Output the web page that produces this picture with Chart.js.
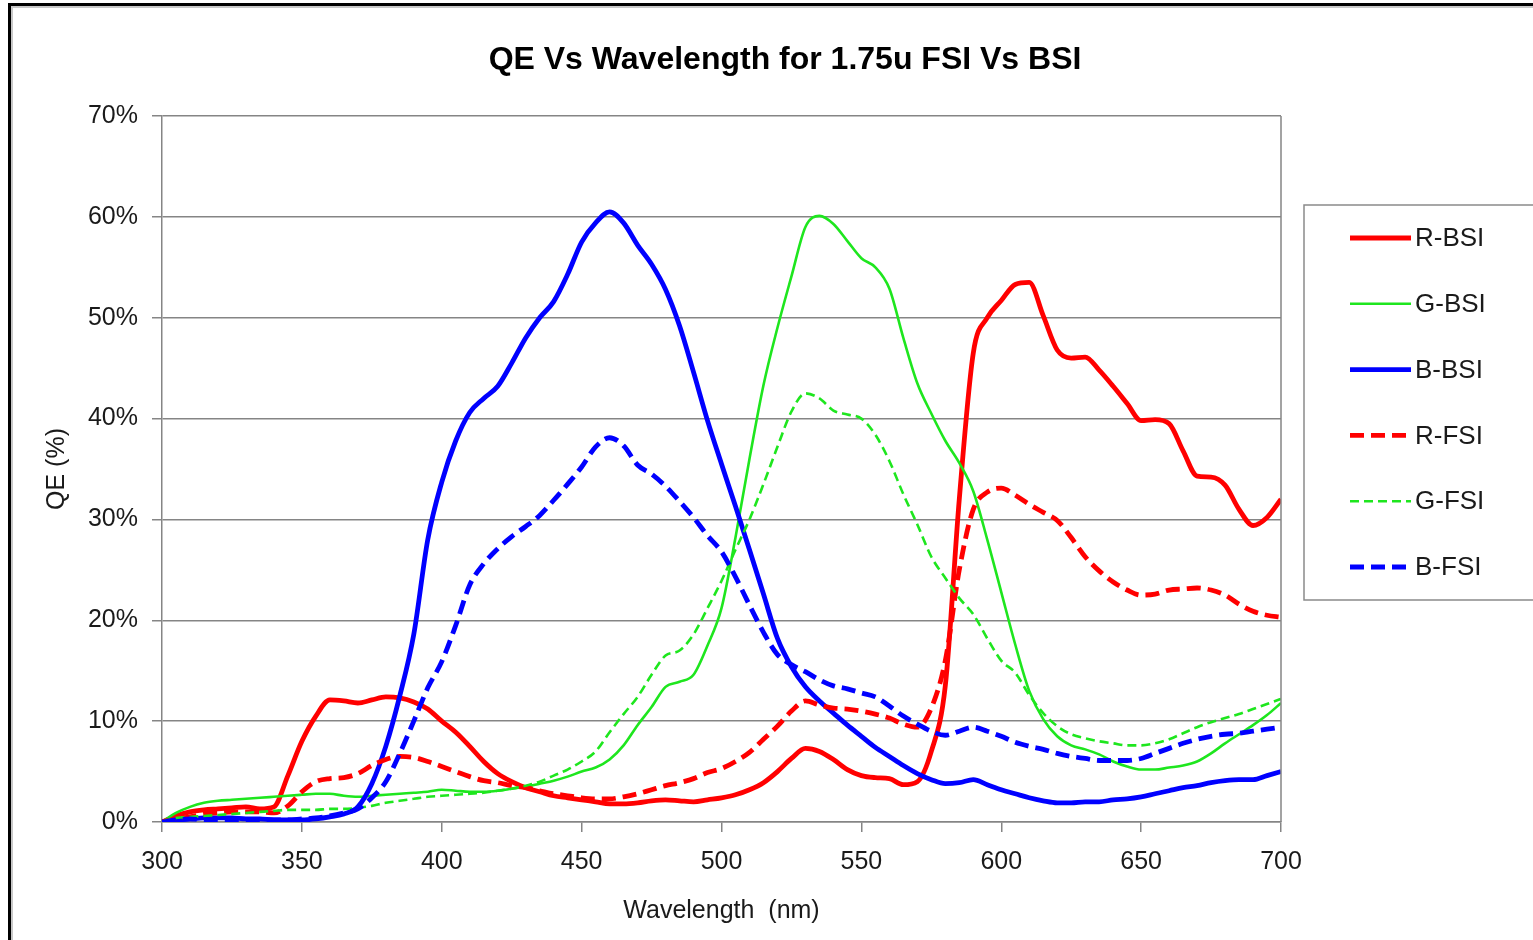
<!DOCTYPE html>
<html>
<head>
<meta charset="utf-8">
<title>QE Vs Wavelength for 1.75u FSI Vs BSI</title>
<script src="https://cdn.jsdelivr.net/npm/chart.js@4/dist/chart.umd.min.js"></script>
<style>
  html, body { margin: 0; padding: 0; background: #ffffff; overflow: hidden; }
  #wrap { position: relative; width: 1533px; height: 940px; }
  canvas { display: block; }
</style>
</head>
<body>
<div id="wrap"><canvas id="qe" width="1533" height="940"></canvas></div>
<script>
// Wavelength samples (nm)
const wavelengths = [
  300, 305, 310, 315, 320, 325, 330, 335, 340, 345,
  350, 355, 360, 365, 370, 375, 380, 385, 390, 395,
  400, 405, 410, 415, 420, 425, 430, 435, 440, 445,
  450, 455, 460, 465, 470, 475, 480, 485, 490, 495,
  500, 505, 510, 515, 520, 525, 530, 535, 540, 545,
  550, 555, 560, 565, 570, 575, 580, 585, 590, 595,
  600, 605, 610, 615, 620, 625, 630, 635, 640, 645,
  650, 655, 660, 665, 670, 675, 680, 685, 690, 695,
  700
];

// Quantum efficiency, percent
const rBSI = [
  0, 0.6, 1.0, 1.2, 1.3, 1.4, 1.5, 1.3, 1.5, 4.6,
  8.0, 10.5, 12.1, 12.0, 11.8, 12.1, 12.4, 12.3, 11.9, 11.2,
  10.0, 8.9, 7.5, 6.0, 4.8, 4.0, 3.4, 3.0, 2.6, 2.4,
  2.2, 2.0, 1.8, 1.8, 1.9, 2.1, 2.2, 2.1, 2.0, 2.2,
  2.4, 2.7, 3.2, 3.9, 5.0, 6.3, 7.3, 7.0, 6.2, 5.2,
  4.6, 4.4, 4.3, 3.7, 4.0, 7.0, 13.5, 32.0, 46.5, 50.0,
  51.7, 53.3, 53.5, 50.2, 46.8, 46.0, 46.1, 44.8, 43.2, 41.5,
  39.8, 39.9, 39.5, 36.8, 34.3, 34.2, 33.4, 31.0, 29.4, 30.2,
  32.0
];
const gBSI = [
  0, 0.9, 1.5, 1.9, 2.1, 2.2, 2.3, 2.4, 2.5, 2.6,
  2.7, 2.8, 2.8, 2.6, 2.5, 2.6, 2.7, 2.8, 2.9, 3.0,
  3.2, 3.1, 3.0, 3.0, 3.1, 3.3, 3.5, 3.8, 4.1, 4.5,
  5.0, 5.4, 6.2, 7.6, 9.6, 11.4, 13.4, 13.9, 14.6, 17.5,
  21.2, 28.2, 36.0, 43.3, 49.0, 54.1, 59.0, 60.1, 59.3, 57.6,
  55.9, 55.0, 52.9, 48.0, 43.5, 40.5, 37.8, 35.6, 32.8, 28.0,
  22.8, 17.6, 13.0, 10.2, 8.5, 7.6, 7.2, 6.7, 6.0, 5.5,
  5.2, 5.2, 5.4, 5.6, 6.0, 6.8, 7.8, 8.7, 9.6, 10.6,
  11.8
];
const bBSI = [
  0, 0.2, 0.3, 0.4, 0.4, 0.4, 0.3, 0.3, 0.2, 0.2,
  0.2, 0.3, 0.5, 0.8, 1.5, 3.8, 7.5, 12.5, 18.6, 28.0,
  33.7, 37.8, 40.6, 42.0, 43.2, 45.5, 48.0, 50.0, 51.6, 54.3,
  57.5, 59.4, 60.5, 59.4, 57.2, 55.3, 52.8, 49.2, 44.6, 39.8,
  35.5, 31.3, 27.0, 22.6, 18.2, 15.4, 13.4, 12.0, 10.8, 9.6,
  8.5, 7.4, 6.5, 5.6, 4.8, 4.2, 3.8, 3.9, 4.2, 3.7,
  3.2, 2.8, 2.4, 2.1, 1.9, 1.9, 2.0, 2.0, 2.2, 2.3,
  2.5, 2.8, 3.1, 3.4, 3.6, 3.9, 4.1, 4.2, 4.2, 4.6,
  5.0
];
const rFSI = [
  0, 0.3, 0.5, 0.8, 0.9, 1.0, 1.0, 1.0, 0.9, 1.6,
  3.0, 4.0, 4.3, 4.4, 4.8, 5.6, 6.2, 6.5, 6.4, 6.0,
  5.5, 5.0, 4.5, 4.1, 3.9, 3.6, 3.4, 3.1, 2.8, 2.6,
  2.4, 2.3, 2.3, 2.5, 2.8, 3.2, 3.6, 3.9, 4.3, 4.9,
  5.3, 6.0, 6.9, 8.2, 9.5, 11.0, 12.0, 11.6, 11.3, 11.2,
  11.0, 10.7, 10.3, 9.7, 9.4, 11.3, 16.0, 25.0, 31.0, 32.7,
  33.1, 32.4, 31.5, 30.7, 29.9, 28.2, 26.3, 24.9, 23.8, 23.0,
  22.5, 22.6, 23.0, 23.1, 23.2, 23.0, 22.5, 21.6, 20.9, 20.5,
  20.3
];
const gFSI = [
  0, 0.4, 0.5, 0.6, 0.7, 0.8, 0.9, 1.0, 1.1, 1.2,
  1.2, 1.2, 1.3, 1.3, 1.4, 1.6, 1.9, 2.1, 2.3, 2.5,
  2.6, 2.7, 2.8, 2.9, 3.1, 3.3, 3.6, 4.0, 4.6, 5.2,
  6.0, 7.0, 8.9, 10.7, 12.4, 14.6, 16.5, 17.0, 18.6, 21.2,
  23.9, 27.0, 30.0, 33.5, 37.2, 40.7, 42.5, 42.0, 40.8, 40.4,
  40.0, 38.4, 35.8, 32.5, 29.5, 26.3, 24.2, 22.2, 20.6, 18.2,
  16.0, 14.8, 12.6, 10.8, 9.5, 8.7, 8.3, 8.0, 7.8, 7.6,
  7.6, 7.8, 8.2, 8.8, 9.4, 9.9, 10.3, 10.7, 11.2, 11.7,
  12.2
];
const bFSI = [
  0, 0.2, 0.3, 0.2, 0.2, 0.2, 0.2, 0.2, 0.2, 0.2,
  0.3, 0.4, 0.6, 0.9, 1.3, 2.4, 4.0, 6.8, 10.0, 13.3,
  15.9, 19.5, 23.5, 25.6, 27.1, 28.3, 29.3, 30.4, 31.9, 33.5,
  35.2, 37.2, 38.1, 37.3, 35.4, 34.5, 33.3, 31.8, 30.2, 28.4,
  26.8, 24.3, 21.5, 18.8, 16.6, 15.6, 14.9, 14.1, 13.5, 13.2,
  12.8, 12.4, 11.5, 10.5, 9.7, 9.0, 8.6, 9.0, 9.4, 9.0,
  8.5, 7.9, 7.5, 7.2, 6.8, 6.5, 6.3, 6.1, 6.1, 6.1,
  6.3, 6.8, 7.3, 7.8, 8.2, 8.5, 8.7, 8.8, 9.0, 9.2,
  9.4
];

const seriesNames = ['R-BSI', 'G-BSI', 'B-BSI', 'R-FSI', 'G-FSI', 'B-FSI'];
const seriesValues = [rBSI, gBSI, bBSI, rFSI, gFSI, bFSI];

const xTicks = [300, 350, 400, 450, 500, 550, 600, 650, 700];
const yTicks = [0, 10, 20, 30, 40, 50, 60, 70];

const chartTitle = 'QE Vs Wavelength for 1.75u FSI Vs BSI';
const xTitle = 'Wavelength  (nm)';
const yTitle = 'QE (%)';

// Line styling per series
const RED = '#ff0000', GREEN = '#1ee61e', BLUE = '#0000ff';
const styles = [
  { color: RED,   width: 4.8, dash: [] },
  { color: GREEN, width: 2.6, dash: [] },
  { color: BLUE,  width: 4.8, dash: [] },
  { color: RED,   width: 4.8, dash: [14, 7] },
  { color: GREEN, width: 2.6, dash: [9, 5] },
  { color: BLUE,  width: 4.8, dash: [14, 7] }
];

const FONT = '"Liberation Sans", Arial, sans-serif';
const TEXT = '#1a1a1a';
const GRID = '#858585';

const datasets = seriesNames.map((name, i) => ({
  label: name,
  data: wavelengths.map((w, k) => ({ x: w, y: seriesValues[i][k] })),
  borderColor: styles[i].color,
  backgroundColor: styles[i].color,
  borderWidth: styles[i].width,
  borderDash: styles[i].dash,
  borderCapStyle: 'butt',
  borderJoinStyle: 'round',
  pointRadius: 0,
  fill: false,
  cubicInterpolationMode: 'monotone',
  order: seriesNames.length - i
}));

// Page frame, title, plot border and legend panel
const decorations = {
  id: 'decorations',
  beforeDraw(chart) {
    const c = chart.ctx;
    c.save();
    c.fillStyle = '#ffffff';
    c.fillRect(0, 0, chart.width, chart.height);
    c.fillStyle = '#c8c8c8';
    c.fillRect(10, 6, chart.width, 2);
    c.fillRect(11, 6, 2, chart.height);
    c.fillStyle = '#000000';
    c.fillRect(8, 3, chart.width, 3);
    c.fillRect(8, 3, 3, chart.height);
    c.restore();
  },
  afterDraw(chart) {
    const c = chart.ctx;
    const a = chart.chartArea;
    c.save();
    // right border of the plot
    c.strokeStyle = GRID;
    c.lineWidth = 1.5;
    c.beginPath();
    c.moveTo(a.right, a.top);
    c.lineTo(a.right, a.bottom);
    c.stroke();

    // title
    c.fillStyle = '#000000';
    c.font = 'bold 32px ' + FONT;
    c.textAlign = 'center';
    c.textBaseline = 'middle';
    c.fillText(chartTitle, 785, 60);

    // legend panel
    const bx = 1304, by = 205, bh = 395;
    c.strokeStyle = '#8a8a8a';
    c.lineWidth = 1.5;
    c.strokeRect(bx, by, chart.width + 10 - bx, bh);
    c.font = '26px ' + FONT;
    c.textAlign = 'left';
    c.textBaseline = 'middle';
    chart.data.datasets.forEach((ds, i) => {
      const y = 238 + i * 65.8;
      c.strokeStyle = ds.borderColor;
      c.lineWidth = ds.borderWidth;
      c.setLineDash(ds.borderDash || []);
      c.beginPath();
      c.moveTo(1350, y);
      c.lineTo(1411, y);
      c.stroke();
      c.setLineDash([]);
      c.fillStyle = TEXT;
      c.fillText(ds.label, 1415, y + 1);
    });
    c.restore();
  }
};

new Chart(document.getElementById('qe'), {
  type: 'line',
  data: { datasets },
  plugins: [decorations],
  options: {
    responsive: false,
    animation: false,
    events: [],
    layout: { padding: { top: 116, left: 20, right: 252, bottom: 10 } },
    plugins: {
      legend: { display: false },
      title: { display: false },
      tooltip: { enabled: false }
    },
    scales: {
      x: {
        type: 'linear',
        min: xTicks[0],
        max: xTicks[xTicks.length - 1],
        afterBuildTicks: s => { s.ticks = xTicks.map(v => ({ value: v })); },
        afterFit: s => { s.height = 108; },
        ticks: {
          font: { family: FONT, size: 25 },
          color: TEXT,
          padding: 15,
          maxRotation: 0,
          autoSkip: false
        },
        grid: {
          drawOnChartArea: false,
          drawTicks: true,
          tickLength: 10,
          color: GRID,
          lineWidth: 1.5
        },
        border: { color: GRID, width: 1.5 },
        title: {
          display: true,
          text: xTitle,
          font: { family: FONT, size: 25 },
          color: TEXT,
          padding: { top: 4, bottom: 4 }
        }
      },
      y: {
        type: 'linear',
        min: yTicks[0],
        max: yTicks[yTicks.length - 1],
        afterBuildTicks: s => { s.ticks = yTicks.map(v => ({ value: v })); },
        afterFit: s => { s.width = 142; },
        ticks: {
          font: { family: FONT, size: 25 },
          color: TEXT,
          padding: 14,
          callback: v => v + '%'
        },
        grid: {
          drawTicks: true,
          tickLength: 10,
          color: GRID,
          lineWidth: 1.5
        },
        border: { color: GRID, width: 1.5 },
        title: {
          display: true,
          text: yTitle,
          font: { family: FONT, size: 25 },
          color: TEXT,
          padding: { top: 22, bottom: 22 }
        }
      }
    }
  }
});
</script>
</body>
</html>
